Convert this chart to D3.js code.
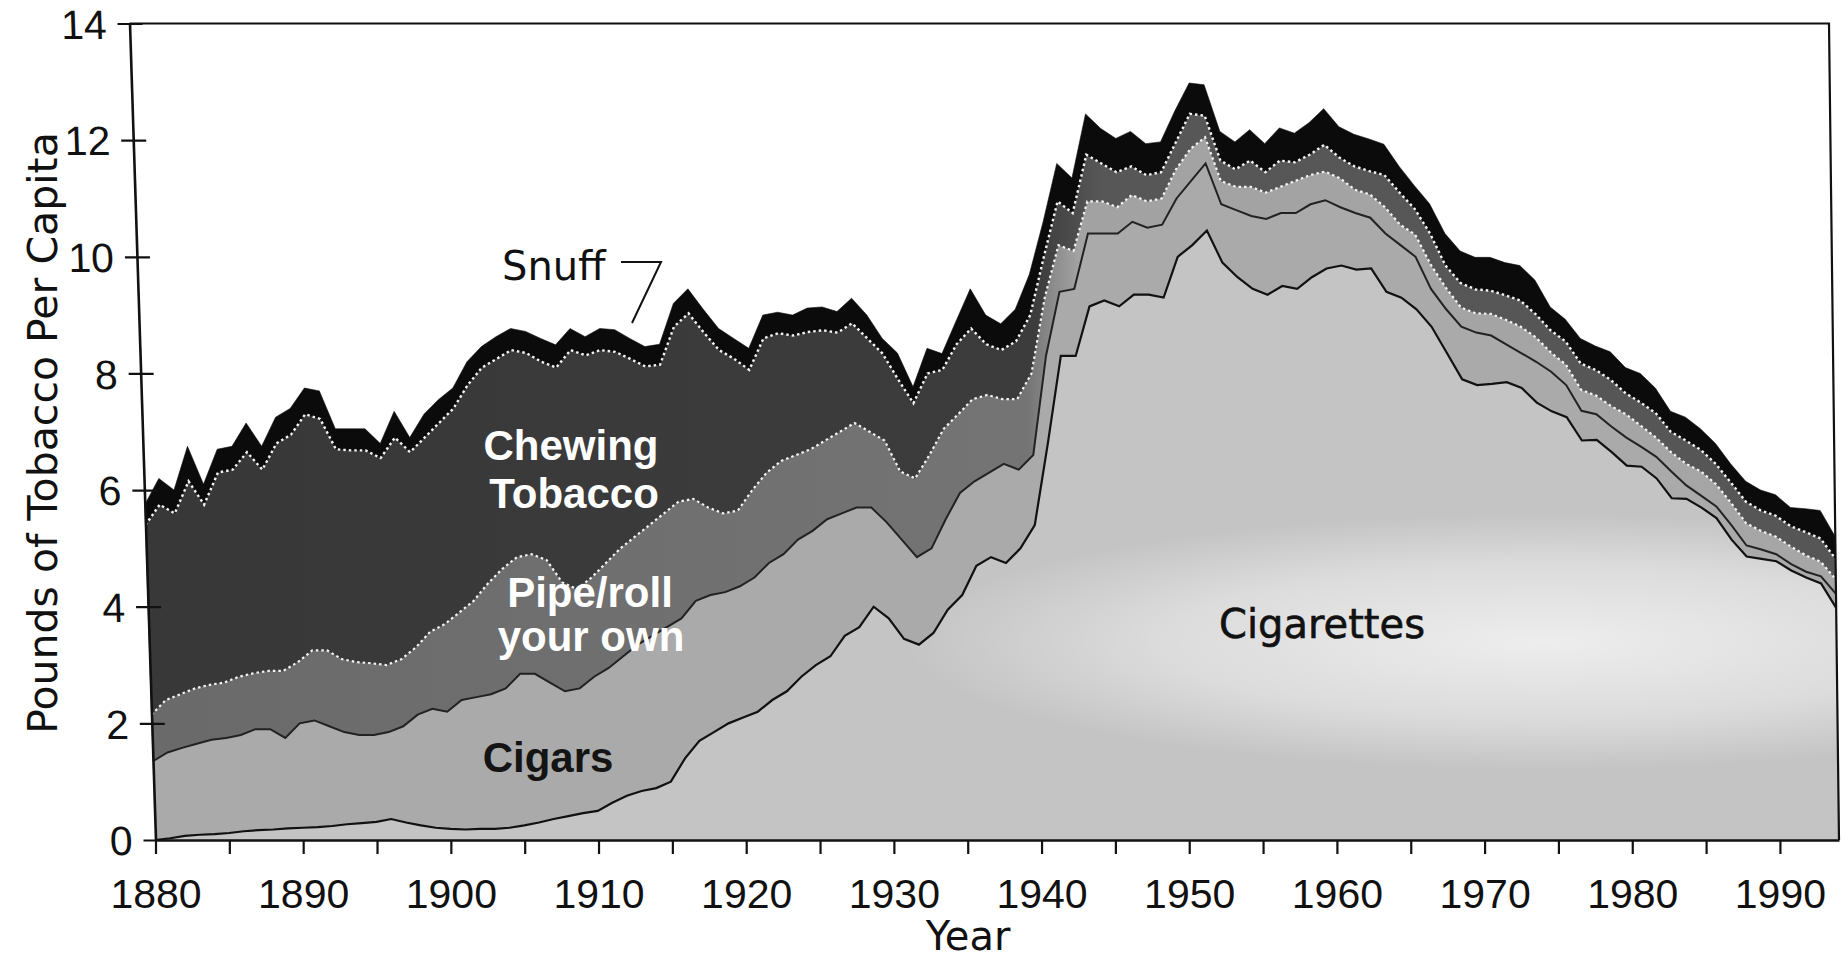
<!DOCTYPE html>
<html><head><meta charset="utf-8">
<script src="https://cdn.jsdelivr.net/npm/d3@7"></script>
<style>
html,body{margin:0;padding:0;background:#fff;}
svg{display:block;}
</style></head><body>
<svg id="chart" width="1844" height="959"></svg>
<script>
// ---------------- data (pounds of tobacco per capita) ----------------
const years = d3.range(1880, 1995);
const cigarettes = [
0.00,0.03,0.07,0.09,0.10,0.12,0.15,0.17,0.18,0.20,
0.21,0.22,0.24,0.27,0.29,0.31,0.36,0.30,0.25,0.21,
0.19,0.18,0.19,0.19,0.21,0.25,0.30,0.36,0.41,0.46,
0.50,0.64,0.76,0.84,0.89,1.00,1.40,1.70,1.85,2.00,
2.10,2.20,2.40,2.55,2.80,3.00,3.15,3.50,3.65,4.00,
3.80,3.45,3.35,3.55,3.95,4.20,4.70,4.85,4.75,5.00,
5.40,6.80,8.30,8.30,9.15,9.25,9.15,9.35,9.35,9.30,
10.00,10.20,10.45,9.90,9.65,9.45,9.35,9.50,9.45,9.65,
9.80,9.85,9.78,9.80,9.40,9.30,9.10,8.80,8.35,7.90,
7.80,7.82,7.85,7.75,7.50,7.35,7.25,6.85,6.86,6.65,
6.42,6.40,6.20,5.86,5.85,5.70,5.52,5.15,4.86,4.82,
4.78,4.62,4.50,4.40,3.98];
const cigars = [
1.35,1.47,1.51,1.56,1.62,1.63,1.65,1.73,1.72,1.55,
1.79,1.83,1.71,1.58,1.51,1.49,1.49,1.65,1.90,2.04,
2.01,2.22,2.26,2.31,2.39,2.60,2.55,2.34,2.14,2.14,
2.30,2.31,2.39,2.51,2.61,2.65,2.40,2.40,2.35,2.25,
2.25,2.30,2.35,2.35,2.35,2.30,2.35,2.10,2.05,1.70,
1.65,1.70,1.50,1.45,1.55,1.75,1.45,1.45,1.70,1.35,
1.20,1.50,1.10,1.15,1.25,1.15,1.25,1.25,1.15,1.25,
1.00,1.10,1.15,1.00,1.15,1.25,1.30,1.25,1.30,1.25,
1.17,1.00,0.97,0.87,1.00,0.90,0.90,0.65,0.75,0.90,
0.90,0.83,0.65,0.60,0.70,0.68,0.55,0.51,0.44,0.44,
0.48,0.34,0.37,0.46,0.23,0.20,0.20,0.25,0.19,0.16,
0.12,0.11,0.10,0.12,0.24];
const pipeRollYourOwn = [
0.80,0.90,0.92,0.95,0.94,0.95,1.00,0.96,1.00,1.15,
1.05,1.20,1.30,1.25,1.25,1.23,1.15,1.15,1.15,1.32,
1.50,1.50,1.65,1.90,2.05,2.00,2.05,2.10,1.87,1.70,
1.70,1.80,1.85,1.85,1.90,1.95,2.00,1.75,1.50,1.35,
1.30,1.50,1.55,1.60,1.45,1.40,1.35,1.40,1.45,1.30,
1.40,1.17,1.35,1.60,1.55,1.35,1.41,1.33,1.11,1.21,
1.40,1.00,0.80,0.65,0.55,0.55,0.45,0.46,0.45,0.45,
0.50,0.55,0.45,0.40,0.40,0.50,0.45,0.45,0.55,0.50,
0.49,0.50,0.40,0.40,0.45,0.35,0.38,0.42,0.37,0.33,
0.33,0.37,0.42,0.45,0.42,0.33,0.35,0.36,0.32,0.35,
0.40,0.36,0.33,0.33,0.37,0.42,0.38,0.38,0.38,0.32,
0.30,0.30,0.28,0.25,0.25];
const chewingTobacco = [
3.25,3.35,3.10,3.55,3.09,3.60,3.55,3.79,3.45,3.90,
3.90,4.05,3.97,3.60,3.63,3.65,3.55,3.80,3.35,3.33,
3.45,3.50,3.70,3.70,3.60,3.55,3.45,3.40,3.68,4.10,
3.81,3.65,3.37,3.05,2.72,2.55,3.00,3.18,3.00,2.80,
2.60,2.06,2.30,2.19,2.05,2.01,1.89,1.70,1.71,1.60,
1.49,1.58,1.29,1.40,1.01,1.20,1.21,0.87,0.84,0.99,
1.00,0.70,0.75,0.65,0.80,0.65,0.60,0.49,0.45,0.45,
0.45,0.60,0.37,0.35,0.30,0.45,0.35,0.45,0.32,0.35,
0.46,0.35,0.40,0.40,0.55,0.55,0.44,0.53,0.38,0.42,
0.41,0.40,0.42,0.45,0.40,0.38,0.40,0.45,0.44,0.45,
0.36,0.40,0.42,0.35,0.40,0.37,0.35,0.35,0.37,0.35,
0.36,0.35,0.40,0.40,0.35];
const snuff = [
0.35,0.45,0.40,0.60,0.35,0.40,0.40,0.50,0.40,0.45,
0.45,0.45,0.48,0.35,0.37,0.37,0.25,0.45,0.25,0.40,
0.40,0.35,0.40,0.36,0.38,0.37,0.37,0.40,0.39,0.37,
0.32,0.37,0.38,0.35,0.34,0.35,0.40,0.42,0.40,0.37,
0.35,0.37,0.40,0.36,0.35,0.41,0.40,0.36,0.43,0.40,
0.26,0.45,0.28,0.43,0.28,0.40,0.68,0.50,0.45,0.55,
0.70,0.60,0.65,0.60,0.70,0.60,0.58,0.60,0.54,0.52,
0.55,0.53,0.53,0.50,0.47,0.53,0.49,0.56,0.50,0.55,
0.62,0.53,0.55,0.55,0.53,0.45,0.40,0.51,0.55,0.55,
0.55,0.57,0.56,0.60,0.58,0.40,0.38,0.43,0.41,0.48,
0.44,0.50,0.43,0.35,0.40,0.36,0.35,0.32,0.35,0.35,
0.36,0.32,0.40,0.48,0.38];
const seriesKeys = ["Cigarettes","Cigars","Pipe/roll your own","Chewing Tobacco","Snuff"];
const yTickValues = [0,2,4,6,8,10,12,14];
const xTickValues = [1880,1885,1890,1895,1900,1905,1910,1915,1920,1925,1930,1935,1940,1945,1950,1955,1960,1965,1970,1975,1980,1985,1990];

// ---------------- build table ----------------
const seriesArrays = [cigarettes, cigars, pipeRollYourOwn, chewingTobacco, snuff];
const table = years.map((yr, i) => {
  const row = {year: yr};
  seriesKeys.forEach((k, j) => row[k] = seriesArrays[j][i]);
  return row;
});
const stacked = d3.stack().keys(seriesKeys)(table);

// ---------------- scales ----------------
const X0 = 1880, X1 = 1994;
const x = d3.scaleLinear().domain([X0, X1]).range([155.5, 1839]);
const y = d3.scaleLinear().domain([0, 14]).range([840, 23.5]);
// the printed page is slightly sheared: points move left as they rise
const shearL = 26, shearR = 10;
function sx(yr, v) {
  const t = (yr - X0) / (X1 - X0);
  return x(yr) - (v / 14) * (shearL * (1 - t) + shearR * t);
}

const svg = d3.select("#chart");
const defs = svg.append("defs");
function hGrad(id, stops) {
  const g = defs.append("linearGradient").attr("id", id)
    .attr("gradientUnits", "userSpaceOnUse")
    .attr("x1", x(X0)).attr("x2", x(X1)).attr("y1", 0).attr("y2", 0);
  stops.forEach(([yr, c]) => g.append("stop").attr("offset", (yr - X0) / (X1 - X0)).attr("stop-color", c));
  return `url(#${id})`;
}
const fills = {
  "Cigarettes": "#c4c4c4",
  "Cigars": "#aaaaaa",
  "Pipe/roll your own": hGrad("gPipe", [[1880,"#6a6a6a"],[1939,"#747474"],[1942.5,"#a2a2a2"],[1994,"#a6a6a6"]]),
  "Chewing Tobacco": hGrad("gChew", [[1880,"#383838"],[1939.5,"#3c3c3c"],[1944,"#575757"],[1994,"#565656"]]),
  "Snuff": "#0b0b0b"
};

const area = d3.area()
  .x0(d => sx(d.data.year, d[0])).y0(d => y(d[0]))
  .x1(d => sx(d.data.year, d[1])).y1(d => y(d[1]));
const topLine = d3.line()
  .x(d => sx(d.data.year, d[1])).y(d => y(d[1]));

// pale, uneven patch of the halftone inside the cigarette area
const patch = defs.append("radialGradient").attr("id", "gPatch")
  .attr("gradientUnits", "userSpaceOnUse")
  .attr("cx", x(1974)).attr("cy", y(3.4)).attr("r", 640)
  .attr("gradientTransform", `translate(${x(1974)},${y(3.4)}) scale(1,0.2) translate(${-x(1974)},${-y(3.4)})`);
patch.append("stop").attr("offset", 0).attr("stop-color", "#fff").attr("stop-opacity", 0.7);
patch.append("stop").attr("offset", 0.6).attr("stop-color", "#fff").attr("stop-opacity", 0.4);
patch.append("stop").attr("offset", 1).attr("stop-color", "#fff").attr("stop-opacity", 0);
defs.append("clipPath").attr("id", "cigClip").append("path").datum(stacked[0]).attr("d", area);

const plot = svg.append("g");
plot.selectAll("path.layer").data(stacked).join("path")
  .attr("class", "layer")
  .attr("d", area)
  .attr("fill", d => fills[d.key])
  .attr("stroke", d => fills[d.key])
  .attr("stroke-width", 0.6);
plot.append("rect").attr("clip-path", "url(#cigClip)")
  .attr("x", x(1900)).attr("y", y(7)).attr("width", x(1994) - x(1900)).attr("height", y(0) - y(7))
  .attr("fill", "url(#gPatch)");

// edges between layers
plot.append("path").datum(stacked[0]).attr("d", topLine)
  .attr("fill", "none").attr("stroke", "#111").attr("stroke-width", 2.2);
plot.append("path").datum(stacked[1]).attr("d", topLine)
  .attr("fill", "none").attr("stroke", "#222").attr("stroke-width", 2);
plot.append("path").datum(stacked[2]).attr("d", topLine)
  .attr("fill", "none").attr("stroke", "#f4f4f4").attr("stroke-width", 2.2)
  .attr("stroke-dasharray", "2.5,3");
plot.append("path").datum(stacked[3]).attr("d", topLine)
  .attr("fill", "none").attr("stroke", "#f4f4f4").attr("stroke-width", 2.4)
  .attr("stroke-dasharray", "2.5,3");

// ---------------- frame & axes ----------------
const tickFont = "'Liberation Sans', Arial, Helvetica, sans-serif";
const labelFont = "'DejaVu Sans', Verdana, sans-serif";

// top border and right border (follow the shear)
svg.append("path")
  .attr("d", d3.line()([[sx(X0, 14), y(14)], [sx(X1, 14), y(14)], [sx(X1, 0), y(0)]]))
  .attr("fill", "none").attr("stroke", "#111").attr("stroke-width", 2.2);

// bottom axis
const xAxis = d3.axisBottom(x).tickValues(xTickValues).tickSize(14).tickSizeOuter(0)
  .tickFormat(d => d % 10 === 0 ? String(d) : "");
const gx = svg.append("g").attr("transform", `translate(0,${y(0)})`).call(xAxis);
gx.select(".domain").attr("stroke", "#111").attr("stroke-width", 2.6);
gx.selectAll(".tick line").attr("stroke", "#111").attr("stroke-width", 2.2);
gx.selectAll(".tick text").attr("fill", "#111").attr("y", 68).attr("dy", 0)
  .style("font-family", tickFont).style("font-size", "41px");

// left axis, sheared like the scan
const shearDeg = Math.atan(shearL / (y(0) - y(14))) * 180 / Math.PI;
const yAxis = d3.axisLeft(y).tickValues(yTickValues).tickSize(12).tickSizeOuter(0).tickFormat(d3.format("d"));
const gy = svg.append("g")
  .attr("transform", `translate(${x(X0)},${y(0)}) skewX(${shearDeg}) translate(0,${-y(0)})`)
  .call(yAxis);
gy.select(".domain").attr("stroke", "#111").attr("stroke-width", 2.6);
gy.selectAll(".tick line").attr("x1", 13).attr("x2", -12).attr("stroke", "#111").attr("stroke-width", 2.2);
gy.selectAll(".tick").filter(d => d === 0).select("line").attr("x1", 0);
gy.selectAll(".tick text").attr("fill", "#111").attr("x", -23).attr("dy", "0.36em")
  .style("font-family", tickFont).style("font-size", "41px");

// axis titles
svg.append("text").attr("x", 968).attr("y", 950).attr("text-anchor", "middle")
  .style("font-family", labelFont).style("font-size", "40px").attr("fill", "#111").text("Year");
svg.append("text").attr("transform", "translate(57,433) rotate(-90)").attr("text-anchor", "middle")
  .style("font-family", labelFont).style("font-size", "41px").attr("fill", "#111")
  .text("Pounds of Tobacco Per Capita");

// ---------------- in-chart labels ----------------
function lbl(txt, xx, yy, opts) {
  return svg.append("text").attr("x", xx).attr("y", yy).attr("text-anchor", opts.anchor || "middle")
    .style("font-family", opts.font).style("font-size", opts.size + "px")
    .style("font-weight", opts.weight || "normal").attr("fill", opts.fill || "#111").text(txt);
}
const boldFont = "'Liberation Sans', Arial, Helvetica, sans-serif";
lbl("Snuff", 502, 280, {font: labelFont, size: 40, anchor: "start"});
svg.append("path").attr("d", "M621,262 L661,262 L632,323").attr("fill", "none")
  .attr("stroke", "#111").attr("stroke-width", 2);
lbl("Chewing", 571, 460, {font: boldFont, size: 42, weight: "bold", fill: "#fff"});
lbl("Tobacco", 574, 508, {font: boldFont, size: 42, weight: "bold", fill: "#fff"});
lbl("Pipe/roll", 590, 607, {font: boldFont, size: 42, weight: "bold", fill: "#fff"});
lbl("your own", 591, 651, {font: boldFont, size: 42, weight: "bold", fill: "#fff"});
lbl("Cigars", 548, 772, {font: boldFont, size: 42, weight: "bold", fill: "#141414"});
lbl("Cigarettes", 1322, 638, {font: labelFont, size: 40, fill: "#111"})
  .attr("stroke", "#111").attr("stroke-width", 0.6);
</script>
</body></html>
